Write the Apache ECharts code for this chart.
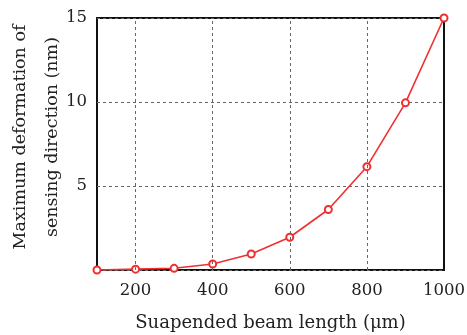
<!DOCTYPE html>
<html><head><meta charset="utf-8">
<script src="https://cdn.jsdelivr.net/npm/echarts@6/dist/echarts.min.js"></script>
<style>html,body{margin:0;padding:0;background:#fff}#c{width:467px;height:335px}</style>
</head><body><div id="c"></div>
<script>
const beamLength = [100, 200, 300, 400, 500, 600, 700, 800, 900, 1000];
const deformation = [0, 0.05, 0.1, 0.36, 0.95, 1.95, 3.6, 6.15, 9.95, 15];
const xGridValues = [200, 400, 600, 800];
const xLabelValues = [200, 400, 600, 800, 1000];
const yLabelValues = [5, 10, 15];
const font = 'DejaVu Serif';
const chart = echarts.init(document.getElementById('c'));
chart.setOption({
  animation: false,
  grid: { left: 97, right: 23, top: 18, bottom: 65, outerBoundsMode: 'none', containLabel: false,
    show: true, borderColor: '#111', borderWidth: 2, backgroundColor: 'transparent' },
  xAxis: {
    type: 'value', min: 100, max: 1000, interval: 100,
    name: 'Suapended beam length (\u03bcm)', nameLocation: 'middle', nameGap: 44, nameMoveOverlap: false,
    nameTextStyle: { fontFamily: font, fontSize: 18, color: '#222' },
    axisLine: { show: false }, axisTick: { show: false },
    axisLabel: { fontFamily: font, fontSize: 16.5, color: '#222', margin: 12,
      formatter: v => xLabelValues.includes(v) ? String(v) : '' },
    splitLine: { show: false }
  },
  yAxis: {
    type: 'value', min: 0, max: 15, interval: 5,
    name: 'Maximum deformation of\nsensing direction (nm)', nameLocation: 'middle', nameGap: 29, nameMoveOverlap: false,
    nameTextStyle: { fontFamily: font, fontSize: 17.5, color: '#222', lineHeight: 32, padding: [0, 0, 0, 14] },
    axisLine: { show: false }, axisTick: { show: false },
    axisLabel: { fontFamily: font, fontSize: 16.5, color: '#222', margin: 10,
      formatter: v => yLabelValues.includes(v) ? String(v) : '' },
    splitLine: { show: true, lineStyle: { color: '#666', type: [3, 3], width: 1 } }
  },
  series: [{
    type: 'line',
    data: beamLength.map((x, i) => [x, deformation[i]]),
    symbol: 'emptyCircle', symbolSize: 7,
    lineStyle: { color: '#f03030', width: 1.6 },
    itemStyle: { color: '#f03030', borderWidth: 1.5 },
    markLine: {
      silent: true, symbol: 'none', label: { show: false },
      lineStyle: { color: '#666', type: [3, 3], width: 1 },
      data: xGridValues.map(v => ({ xAxis: v }))
    },
    z: 3
  }]
});
</script></body></html>
